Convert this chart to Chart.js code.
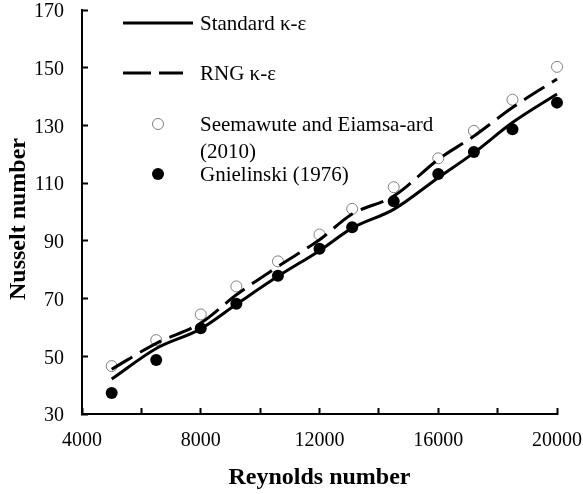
<!DOCTYPE html>
<html>
<head>
<meta charset="utf-8">
<script src="https://cdn.jsdelivr.net/npm/chart.js@4.4.0/dist/chart.umd.min.js"></script>
<style>
  body { margin: 0; background: #fff; }
  #wrap { width: 583px; height: 494px; }
</style>
</head>
<body>
<div id="wrap"><canvas id="nuChart" width="583" height="494"></canvas></div>
<script>
// Reynolds number at each simulated / correlated point
const reynolds = [5000, 6500, 8000, 9200, 10600, 12000, 13100, 14500, 16000, 17200, 18500, 20000];
// CFD results
const standardKE = [42.1, 52.7, 59.5, 68.0, 77.7, 86.6, 94.4, 100.9, 111.9, 120.5, 131.0, 140.9];
const rngKE = [45.5, 54.5, 61.5, 71.3, 81.1, 90.4, 99.3, 105.5, 118.2, 126.3, 136.2, 146.1];
// reference data
const seemawute = [46.6, 55.6, 64.5, 74.2, 82.9, 92.2, 101.1, 108.6, 118.6, 128.1, 138.9, 150.3];
const gnielinski = [37.3, 48.7, 59.7, 68.2, 77.9, 87.3, 94.7, 103.7, 113.2, 120.8, 128.7, 137.9];

const xLabels = [4000, 8000, 12000, 16000, 20000];
const yMin = 30, yMax = 170, yStep = 20;

const toPoints = vals => vals.map((v, i) => ({ x: reynolds[i], y: v }));

const serif = "'Liberation Serif', 'Times New Roman', serif";

// legend inside the plot (top-left) and the vertical axis title
const annotations = {
    id: 'annotations',
    afterDraw(chart) {
        const ctx = chart.ctx;
        ctx.save();
        ctx.font = '21px ' + serif;
        ctx.fillStyle = '#000';
        ctx.textBaseline = 'middle';
        ctx.textAlign = 'left';
        ctx.strokeStyle = '#000';
        ctx.lineWidth = 3;

        ctx.beginPath();
        ctx.moveTo(123, 23); ctx.lineTo(193, 23);
        ctx.stroke();
        ctx.fillText('Standard κ-ε', 200, 24);

        ctx.setLineDash([28, 8]);
        ctx.beginPath();
        ctx.moveTo(123, 73); ctx.lineTo(183, 73);
        ctx.stroke();
        ctx.setLineDash([]);
        ctx.fillText('RNG κ-ε', 200, 74);

        ctx.lineWidth = 1;
        ctx.strokeStyle = '#808080';
        ctx.fillStyle = '#fff';
        ctx.beginPath();
        ctx.arc(158, 124, 5.5, 0, Math.PI * 2);
        ctx.fill(); ctx.stroke();
        ctx.fillStyle = '#000';
        ctx.fillText('Seemawute and Eiamsa-ard', 200, 125);
        ctx.fillText('(2010)', 200, 152);

        ctx.beginPath();
        ctx.arc(158, 174, 6, 0, Math.PI * 2);
        ctx.fill();
        ctx.fillText('Gnielinski (1976)', 200, 175);

        // y axis title
        ctx.translate(19, 219);
        ctx.rotate(-Math.PI / 2);
        ctx.textAlign = 'center';
        ctx.font = 'bold 24px ' + serif;
        ctx.fillText('Nusselt number', 0, 0);
        ctx.restore();
    }
};

new Chart(document.getElementById('nuChart'), {
    type: 'scatter',
    data: {
        datasets: [
            {
                label: 'Standard κ-ε',
                data: toPoints(standardKE),
                showLine: true,
                borderColor: '#000',
                borderWidth: 3,
                pointRadius: 0,
                cubicInterpolationMode: 'monotone',
                clip: false
            },
            {
                label: 'RNG κ-ε',
                data: toPoints(rngKE),
                showLine: true,
                borderColor: '#000',
                borderWidth: 3,
                borderDash: [24, 9],
                pointRadius: 0,
                cubicInterpolationMode: 'monotone',
                clip: false
            },
            {
                label: 'Seemawute and Eiamsa-ard (2010)',
                data: toPoints(seemawute),
                pointRadius: 5.5,
                pointBackgroundColor: '#fff',
                pointBorderColor: '#808080',
                pointBorderWidth: 1,
                clip: false
            },
            {
                label: 'Gnielinski (1976)',
                data: toPoints(gnielinski),
                pointRadius: 6,
                pointBackgroundColor: '#000',
                pointBorderColor: '#000',
                pointBorderWidth: 0,
                clip: false
            }
        ]
    },
    options: {
        responsive: false,
        animation: false,
        layout: { padding: { top: 10, right: 26, left: 0, bottom: 0 } },
        plugins: {
            legend: { display: false },
            tooltip: { enabled: false }
        },
        scales: {
            x: {
                type: 'linear',
                min: 4000,
                max: 20000,
                afterFit(scale) {
                    scale.height = 80;
                    scale.paddingLeft = 0;
                    scale.paddingRight = 0;
                },
                border: { color: '#000', width: 2 },
                grid: { drawOnChartArea: false, drawTicks: true, tickLength: -6, tickWidth: 2, tickColor: '#000' },
                ticks: {
                    stepSize: 2000,
                    padding: 21,
                    color: '#000',
                    font: { family: serif, size: 20 },
                    maxRotation: 0,
                    autoSkip: false,
                    callback: v => xLabels.includes(v) ? String(v) : ''
                },
                title: {
                    display: true,
                    text: 'Reynolds number',
                    color: '#000',
                    font: { family: serif, size: 24, weight: 'bold' },
                    padding: { bottom: 2 }
                }
            },
            y: {
                min: yMin,
                max: yMax,
                afterFit(scale) {
                    scale.width = 82;
                    scale.paddingTop = 0;
                    scale.paddingBottom = 0;
                },
                border: { color: '#000', width: 2 },
                grid: { drawOnChartArea: false, drawTicks: true, tickLength: -6, tickWidth: 2, tickColor: '#000' },
                ticks: {
                    stepSize: yStep,
                    padding: 24,
                    labelOffset: 2,
                    color: '#000',
                    font: { family: serif, size: 20 }
                },
                title: { display: false }
            }
        }
    },
    plugins: [annotations]
});
</script>
</body>
</html>
